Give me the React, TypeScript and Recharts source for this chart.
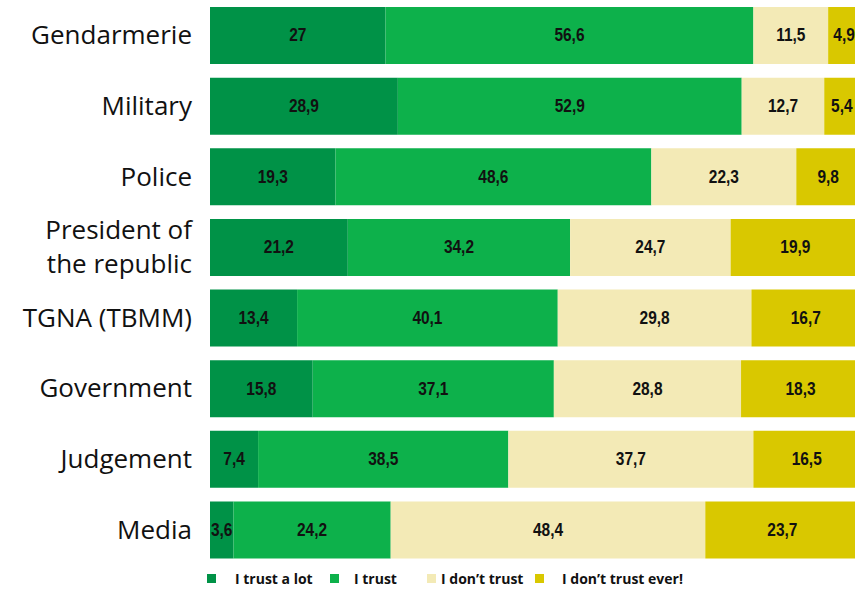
import { BarChart, Bar, XAxis, YAxis, LabelList } from 'recharts'

const categories = [
  'Gendarmerie',
  'Military',
  'Police',
  'President of\nthe republic',
  'TGNA (TBMM)',
  'Government',
  'Judgement',
  'Media',
]
const trustALot = [27, 28.9, 19.3, 21.2, 13.4, 15.8, 7.4, 3.6]
const trust = [56.6, 52.9, 48.6, 34.2, 40.1, 37.1, 38.5, 24.2]
const dontTrust = [11.5, 12.7, 22.3, 24.7, 29.8, 28.8, 37.7, 48.4]
const dontTrustEver = [4.9, 5.4, 9.8, 19.9, 16.7, 18.3, 16.5, 23.7]

const series = [
  { key: 'trustALot', name: 'I trust a lot', color: '#009247' },
  { key: 'trust', name: 'I trust', color: '#0db14b' },
  { key: 'dontTrust', name: 'I don\u2019t trust', color: '#f3eab6' },
  { key: 'dontTrustEver', name: 'I don\u2019t trust ever!', color: '#d9c800' },
]

const data = categories.map((name, i) => ({
  name,
  trustALot: trustALot[i],
  trust: trust[i],
  dontTrust: dontTrust[i],
  dontTrustEver: dontTrustEver[i],
}))

const fmt = (v: any) => String(v).replace('.', ',')

function CategoryTick({ x, y, payload }: any) {
  const lines = String(payload.value).split('\n')
  const lh = 34
  const start = y - 1 - ((lines.length - 1) * lh) / 2
  return (
    <text
      x={x - 10}
      y={start}
      textAnchor="end"
      dominantBaseline="central"
      fontFamily="'Open Sans', sans-serif"
      fontSize={26}
      fill="#111"
    >
      {lines.map((l, i) => (
        <tspan key={i} x={x - 10} y={start + i * lh}>
          {l}
        </tspan>
      ))}
    </text>
  )
}

// condensed bold value label, centred in its segment
function ValueLabel({ x, y, width, height, value }: any) {
  const cx = x + width / 2
  const cy = y + height / 2
  return (
    <text
      transform={`translate(${cx},${cy}) scale(0.86,1)`}
      textAnchor="middle"
      dominantBaseline="central"
      fontFamily="'Liberation Sans', Arial, sans-serif"
      fontWeight="bold"
      fontSize={18}
      fill="#111"
    >
      {fmt(value)}
    </text>
  )
}

// legend entries sit where the original's did
const legendLayout = [
  { left: 207, gap: 19 },
  { left: 330, gap: 15 },
  { left: 427, gap: 5 },
  { left: 535, gap: 18 },
]

function ChartLegend() {
  return (
    <div
      style={{
        position: 'absolute',
        top: 568,
        left: 0,
        width: 855,
        height: 20,
        fontFamily: "'Open Sans', sans-serif",
        fontWeight: 700,
        fontSize: 14,
        color: '#111',
      }}
    >
      {series.map((s, i) => (
        <div
          key={s.key}
          style={{
            position: 'absolute',
            left: legendLayout[i].left,
            top: 0,
            height: 20,
            display: 'flex',
            alignItems: 'center',
            whiteSpace: 'nowrap',
          }}
        >
          <span
            style={{
              width: 9,
              height: 9,
              background: s.color,
              marginRight: legendLayout[i].gap,
              display: 'inline-block',
            }}
          />
          <span>{s.name}</span>
        </div>
      ))}
    </div>
  )
}

export default function App() {
  return (
    <div
      style={{
        position: 'absolute',
        left: 0,
        top: 0,
        width: 855,
        height: 591,
        overflow: 'hidden',
        background: '#fff',
      }}
    >
      <BarChart
        width={860}
        height={591}
        data={data}
        layout="vertical"
        margin={{ top: 0, right: 0, left: 0, bottom: 26 }}
      >
        <XAxis type="number" domain={[0, 100]} allowDataOverflow hide />
        <YAxis
          type="category"
          dataKey="name"
          width={210}
          axisLine={false}
          tickLine={false}
          tick={<CategoryTick />}
        />
        {series.map((s) => (
          <Bar
            key={s.key}
            dataKey={s.key}
            name={s.name}
            stackId="a"
            fill={s.color}
            barSize={57}
            isAnimationActive={false}
          >
            <LabelList dataKey={s.key} content={<ValueLabel />} />
          </Bar>
        ))}
      </BarChart>
      <ChartLegend />
    </div>
  )
}
